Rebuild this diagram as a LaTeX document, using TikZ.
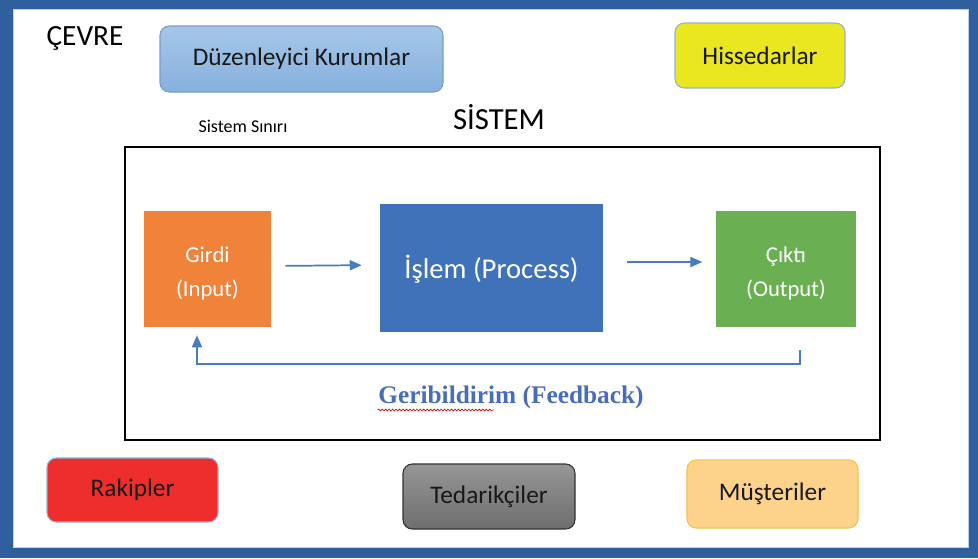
\documentclass[tikz,border=0pt]{standalone}
\usepackage{fontspec}
\setmainfont{Carlito}
\newfontfamily\fbfont{Liberation Serif}
\usetikzlibrary{arrows.meta,calc,decorations.pathmorphing,shadings}
\definecolor{frameblue}{HTML}{2F5F9C}
\definecolor{lightedge}{HTML}{8DB4DC}
\definecolor{duzA}{HTML}{A6C6E8}
\definecolor{duzB}{HTML}{86B1DE}
\definecolor{hisY}{HTML}{EAE620}
\definecolor{rakR}{HTML}{EE2D2D}
\definecolor{tedA}{HTML}{969696}
\definecolor{tedB}{HTML}{6E6E6E}
\definecolor{musO}{HTML}{FDD38C}
\definecolor{musE}{HTML}{F5C24A}
\definecolor{girO}{HTML}{F0823A}
\definecolor{islB}{HTML}{4072B9}
\definecolor{cikG}{HTML}{6BAF53}
\definecolor{arrB}{HTML}{4A7CC0}
\definecolor{fbB}{HTML}{4A6EB5}
\tikzset{
  envbox/.style={draw=lightedge, line width=0.8pt, rounded corners=7pt, inner sep=0pt,
     text=black!90, font=\fontsize{19}{22}\selectfont},
  procbox/.style={inner sep=0pt, text=white, font=\fontsize{17}{25.5}\selectfont, align=center},
  flowarr/.style={draw=arrB, line width=1.3pt, -{Triangle[length=9pt,width=7.5pt]}},
}
\begin{document}
\begin{tikzpicture}[x=0.75pt,y=-0.75pt]
\useasboundingbox (0,0) rectangle (978,558);
% frame
\fill[frameblue] (0,0) rectangle (978,558);
\fill[white] (13,9) rectangle (968,547);
\draw[lightedge!60, line width=0.5pt] (13,9) rectangle (968,547);
% environment labels
\node[font=\fontsize{22}{25}\selectfont] (cevre) at (85,38) {ÇEVRE};
\node[font=\fontsize{23}{26}\selectfont] (sistem) at (499,117) {SİSTEM};
\node[font=\fontsize{13.5}{16}\selectfont] (sinir) at (243,126) {Sistem Sınırı};
% environment boxes
\node[envbox, top color=duzA, bottom color=duzB, draw=duzB!80!black!60!lightedge,
      minimum width=212.25pt, minimum height=49.5pt] (duz) at (301.5,59) {Düzenleyici Kurumlar};
\node[envbox, fill=hisY, minimum width=127.5pt, minimum height=48.75pt] (his) at (760,55.5) {Hissedarlar};
\node[envbox, fill=rakR, minimum width=128.25pt, minimum height=48pt] (rak) at (132.5,490) {Rakipler};
\node[envbox, top color=tedA, bottom color=tedB, draw=black!80,
      minimum width=129pt, minimum height=48.75pt] (ted) at (489,496.5) {Tedarikçiler};
\node[envbox, fill=musO, draw=musE, minimum width=128.25pt, minimum height=51pt] (mus) at (772.5,494) {Müşteriler};
% system boundary
\draw[black, line width=1.1pt] (125,147) rectangle (880,440);
% process boxes
\node[procbox, fill=girO, minimum width=95.25pt, minimum height=87pt] (girdi) at (207.5,269) {\rule{0pt}{19pt}Girdi\\(Input)};
\node[procbox, fill=islB, minimum width=167.25pt, minimum height=96pt,
      font=\fontsize{21.5}{25}\selectfont] (islem) at (491.5,268) {\rule{0pt}{20pt}İşlem (Process)};
\node[procbox, fill=cikG, minimum width=105pt, minimum height=87pt] (cikti) at (786,269) {\rule{0pt}{19pt}Çıktı\\(Output)};
% arrows
\draw[flowarr, shorten <=10.5pt, shorten >=13.5pt] ($(girdi.east)+(0,-3)$) -- ($(islem.west)+(0,-3)$);
\draw[flowarr, shorten <=18pt, shorten >=10pt] ($(islem.east)+(0,-6)$) -- ($(cikti.west)+(0,-7)$);
\draw[flowarr] ($(cikti.south)+(14,23)$) -- ++(0,14) -| ($(girdi.south)+(-10.5,8)$);
% feedback label
\node[font=\fbfont\bfseries\fontsize{19}{22}\selectfont, text=fbB] (fb) at (511,397) {Geribildirim (Feedback)};
\draw[red!85!black, line width=0.5pt, decorate, decoration={snake, amplitude=0.7pt, segment length=2.6pt}]
  ($(fb.west)+(4,13)$) -- ($(fb.west)+(120,13)$);
\end{tikzpicture}
\end{document}
